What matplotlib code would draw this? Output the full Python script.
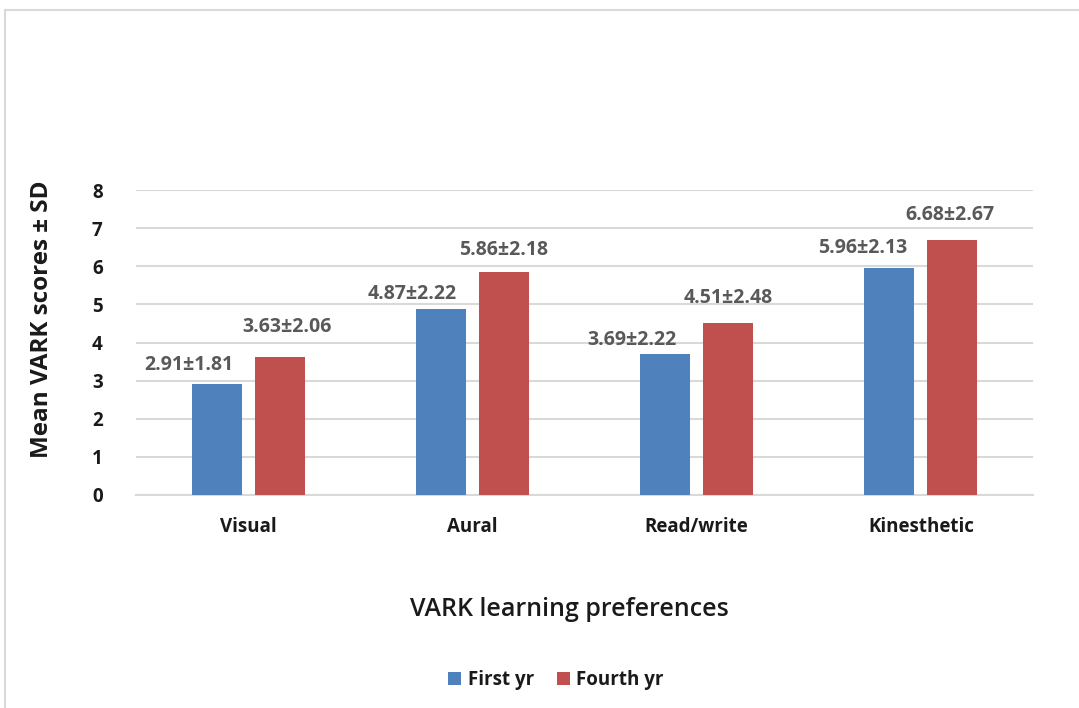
import matplotlib
matplotlib.use("Agg")
import matplotlib.pyplot as plt
from matplotlib.lines import Line2D
import numpy as np

categories = ["Visual", "Aural", "Read/write", "Kinesthetic"]
first_yr = [2.91, 4.87, 3.69, 5.96]
first_sd = [1.81, 2.22, 2.22, 2.13]
fourth_yr = [3.63, 5.86, 4.51, 6.68]
fourth_sd = [2.06, 2.18, 2.48, 2.67]
series_names = ["First yr", "Fourth yr"]

BLUE = "#4F81BD"
RED = "#C0504D"
FONT = ["Open Sans", "DejaVu Sans"]
plt.rcParams['font.family'] = FONT

fig = plt.figure(figsize=(10.79, 7.08), dpi=100)
ax = fig.add_axes([136/1079, 1-495/708, (1033-136)/1079, (495-190)/708])

x = np.arange(len(categories))
w = 0.223
off = 0.14
b1 = ax.bar(x - off, first_yr, w, color=BLUE, label=series_names[0], zorder=3)
b2 = ax.bar(x + off, fourth_yr, w, color=RED, label=series_names[1], zorder=3)

ax.set_xlim(-0.5, 3.5)
ax.set_ylim(0, 8)
ax.set_yticks(range(0, 9))
ax.yaxis.grid(True, color="#d9d9d9", lw=1.5, zorder=0)
ax.set_axisbelow(True)
for s in ["top", "right", "left"]:
    ax.spines[s].set_visible(False)
ax.spines["bottom"].set_color("#d9d9d9")
ax.spines["bottom"].set_linewidth(1.5)
ax.tick_params(axis="both", length=0)
ax.tick_params(axis="y", pad=24, labelsize=13.5)
ax.tick_params(axis="x", pad=16, labelsize=13.5)
ax.set_xticks(x)
ax.set_xticklabels(categories, fontweight="bold", color="#1a1a1a")
for t in ax.get_yticklabels():
    t.set_fontweight("bold")
    t.set_color("#1a1a1a")

# label offsets in pixels (dx, dy above bar top)
offs1 = [(-28, 19), (-29, 15), (-33, 14), (-27, 20)]
offs2 = [(7, 30), (0, 22), (0, 25), (-2, 25)]
for bars, vals, sds, offs in [(b1, first_yr, first_sd, offs1), (b2, fourth_yr, fourth_sd, offs2)]:
    for b, v, s, (dx, dy) in zip(bars, vals, sds, offs):
        ax.annotate(f"{v:.2f}±{s:.2f}", xy=(b.get_x() + b.get_width()/2, v),
                    xytext=(dx, dy), textcoords="offset pixels",
                    ha="center", va="center", fontsize=14, fontweight="bold",
                    color="#595959")

fig.text(42/1079, 1-319/708, "Mean VARK scores ± SD", rotation=90, ha="center", va="center",
         fontsize=17.5, fontweight="bold", color="#1a1a1a")
fig.text(569/1079, 1-610/708, "VARK learning preferences", ha="center", va="center",
         fontsize=18, fontweight="semibold", color="#1a1a1a")

leg = fig.legend(handles=[b1, b2], labels=series_names, loc="center",
                 bbox_to_anchor=(556/1079, 1-680/708), ncol=2, frameon=False,
                 handlelength=0.7, handleheight=0.7, handletextpad=0.35,
                 columnspacing=1.2, prop={"weight": "bold", "size": 13.5, "family": FONT})
for t in leg.get_texts():
    t.set_color("#1a1a1a")

fig.add_artist(Line2D([5/1079, 1], [1-10/708, 1-10/708], color="#d9d9d9", lw=1.5))
fig.add_artist(Line2D([5/1079, 5/1079], [0, 1-10/708], color="#d9d9d9", lw=1.5))

fig.savefig("out.png", dpi=100)
